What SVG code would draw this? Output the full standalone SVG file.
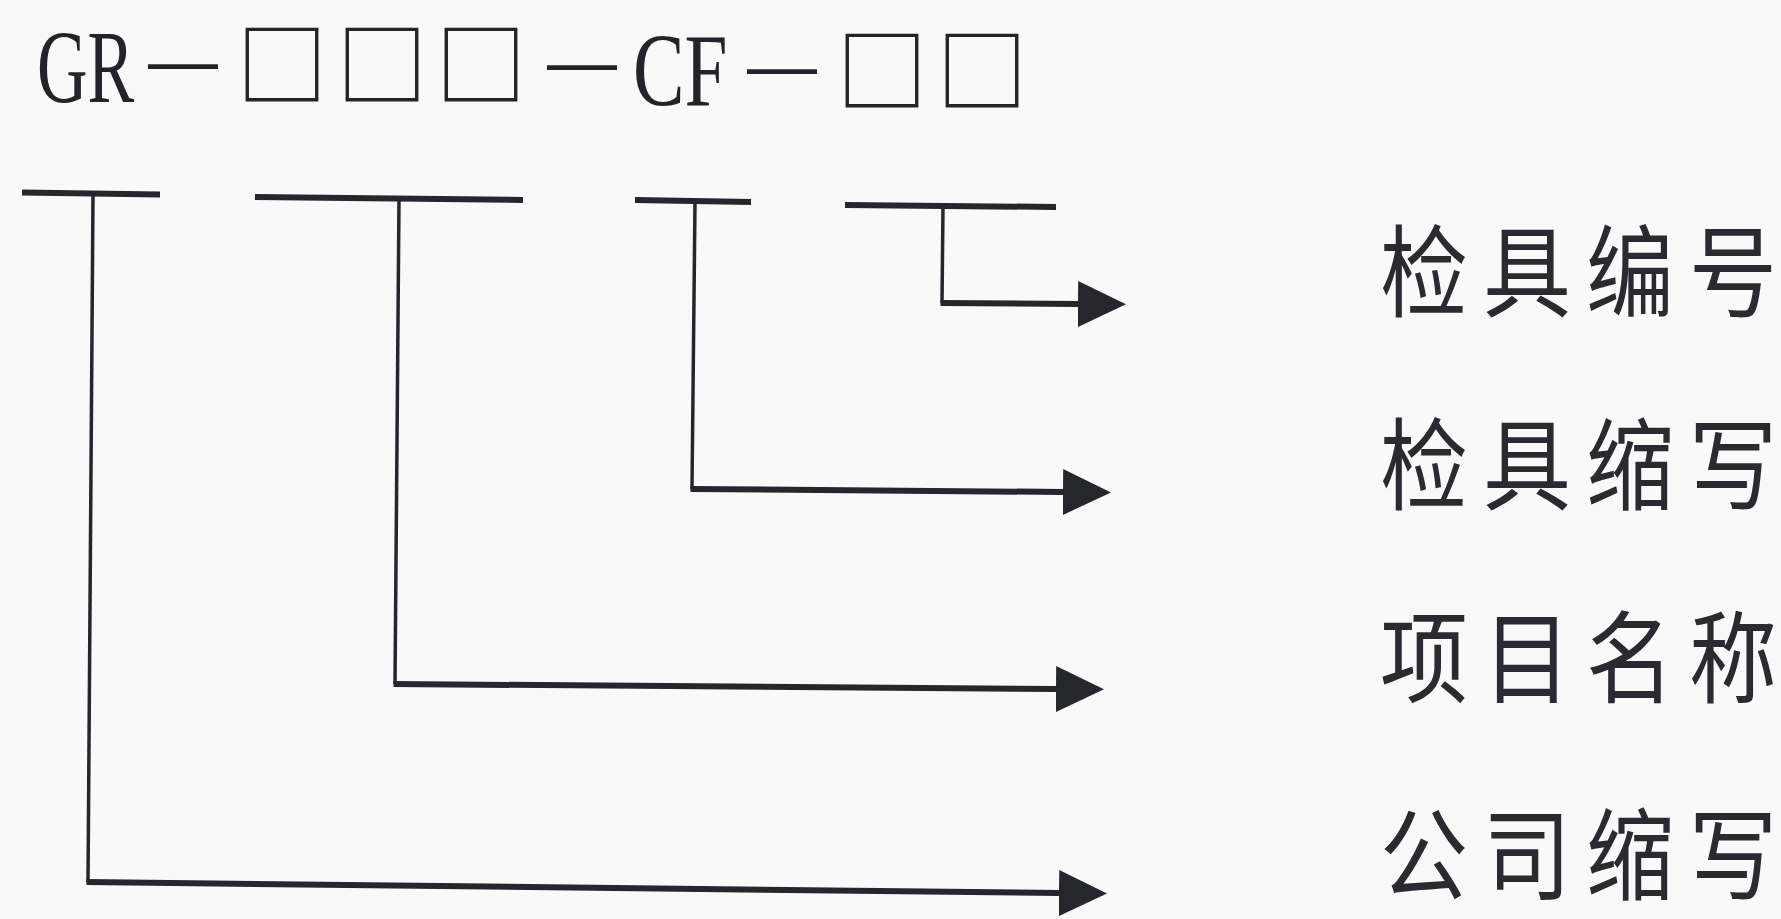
<svg xmlns="http://www.w3.org/2000/svg" width="1781" height="919" viewBox="0 0 1781 919">
<style>
.code{font-family:"Liberation Serif",serif;font-size:103px;fill:#232329}
.sq{font-family:"Noto Sans CJK SC",sans-serif;font-size:91px;fill:#232329;text-anchor:middle}
.dash{font-family:"Liberation Sans",sans-serif;font-size:70px;fill:#232329}
.lbl{font-family:"Noto Sans CJK SC","Noto Sans CJK JP",sans-serif;font-size:100px;fill:#2a2a30}
.bar{stroke:#26262e;stroke-width:6;fill:none}
.vert{stroke:#26262e;stroke-width:3.5;fill:none}
.arr{stroke:#26262e;stroke-width:6;fill:none;marker-end:url(#head)}
</style>
<defs>
<marker id="head" markerUnits="userSpaceOnUse" viewBox="0 0 48 46" markerWidth="48" markerHeight="46" refX="0" refY="23" orient="auto">
<path d="M0,0 L48,23 L0,46 z" fill="#26262e"/>
</marker>
</defs>
<rect width="1781" height="919" fill="#f9f9f9"/>
<g id="code">
<text class="code" transform="translate(37,102) scale(0.68,1)">GR</text>
<text class="dash" x="148" y="85">—</text>
<text class="sq" x="282 382 481" y="99">□□□</text>
<text class="dash" x="547" y="86">—</text>
<text class="code" transform="translate(633,105) scale(0.75,1)">CF</text>
<text class="dash" x="747" y="90">—</text>
<text class="sq" x="882 982" y="105">□□</text>
</g>
<g id="label-jjbh"><text class="lbl" transform="translate(1380,309) scale(0.88,1)" x="0 117 234 351">检具编号</text></g>
<g id="label-jjsx"><text class="lbl" transform="translate(1380,502) scale(0.88,1)" x="0 117 234 351">检具缩写</text></g>
<g id="label-xmmc"><text class="lbl" transform="translate(1380,695) scale(0.88,1)" x="0 117 234 351">项目名称</text></g>
<g id="label-gssx"><text class="lbl" transform="translate(1380,892) scale(0.88,1)" x="0 117 234 351">公司缩写</text></g>
<g id="connectors">
<line class="bar" x1="22" y1="192.5" x2="160" y2="194.5"/>
<line class="bar" x1="255" y1="197" x2="523" y2="200"/>
<line class="bar" x1="635" y1="200" x2="751" y2="202"/>
<line class="bar" x1="845" y1="205" x2="1056" y2="207"/>
<line class="vert" x1="93" y1="194" x2="88" y2="882"/>
<line class="vert" x1="399" y1="199" x2="395" y2="684"/>
<line class="vert" x1="695" y1="202" x2="692" y2="489"/>
<line class="vert" x1="943" y1="207" x2="942" y2="303"/>
<path class="arr" d="M940.5,303 L1078,304"/>
<path class="arr" d="M690.5,489 L1063,492"/>
<path class="arr" d="M393.5,684 L1056,689"/>
<path class="arr" d="M86.5,882 L1059,893"/>
</g>
</svg>
